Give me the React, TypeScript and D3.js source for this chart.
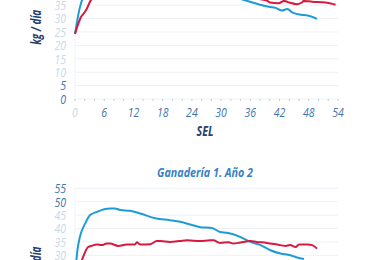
import React from "react";
import * as d3 from "d3";

// Year 1 (top chart, partially visible)
const weeksTopBlue = [0, 0.35, 0.7, 1.4, 2, 3, 4, 6, 8, 10, 14, 18, 22, 26, 30, 33, 35.1, 36.5, 38, 39.8, 41.2, 42.5, 43.6, 44.6, 45.6, 47, 48, 49.7];
const valuesTopBlue = [24.3, 28, 31.7, 36.7, 40, 44, 46.5, 48.5, 48, 47, 45.5, 44, 42.5, 41, 39.5, 38, 36.7, 36, 35.2, 34.4, 34, 33, 33.6, 32.3, 31.7, 31.3, 31.1, 29.9];
const weeksTopRed = [0, 0.7, 1.2, 1.7, 2.4, 3.2, 4, 6, 10, 14, 18, 22, 26, 30, 34, 37, 39.4, 40, 41.8, 42.9, 44, 45.6, 46.6, 46.9, 48.7, 51.4, 53.5];
const valuesTopRed = [24.3, 28.2, 30.5, 31.7, 33.6, 36.7, 38, 38.5, 38.5, 38.8, 39, 39, 38.7, 38.4, 38, 37.5, 36.7, 36, 35.7, 36.6, 36, 35.4, 36, 36.6, 36.3, 36, 35.2];

// Year 2 (bottom chart)
const weeksBotBlue = [0, 0.5, 1, 2.1, 3.1, 4.5, 6, 7.2, 8.2, 9.3, 11.3, 13.4, 16.5, 19.5, 21.6, 23.7, 25.7, 28.1, 29.8, 31.2, 33.9, 36, 38.1, 40.1, 42.2, 44.2, 45.6, 47];
const valuesBotBlue = [22, 31.9, 36.8, 41.9, 45, 46.2, 47.2, 47.5, 47.5, 46.9, 46.6, 45.6, 43.8, 43.1, 42.5, 41.5, 40.5, 40.2, 38.7, 38.4, 36.9, 35, 33.8, 31.9, 30.7, 30, 29.2, 28.6];
const weeksBotRed = [0, 1.4, 2.7, 3.5, 4.5, 5.5, 6.5, 7.2, 8.9, 10.6, 12.3, 12.7, 13.2, 13.7, 15.4, 16.8, 17.5, 19.5, 21.5, 23, 25.7, 27.8, 28.4, 29.8, 31.5, 32.5, 34, 36, 37.3, 39.4, 41.5, 43.2, 44.2, 45.3, 46, 47.7, 48.7, 49.7];
const valuesBotRed = [20, 28.1, 33.1, 33.6, 34, 33.8, 34.4, 34.4, 33.5, 34, 34, 34.9, 34.2, 34, 34.1, 35.3, 35.3, 35, 35.3, 35.6, 35.3, 35.6, 35.6, 34.6, 34.9, 34.4, 34.8, 35.3, 35, 34.6, 34, 33.5, 33.8, 33.1, 34, 34, 33.8, 32.5];

const xTicks = [0, 6, 12, 18, 24, 30, 36, 42, 48, 54];
const yTicks = [0, 5, 10, 15, 20, 25, 30, 35, 40, 45, 50, 55];
const minorTicks = d3.range(0, 55, 2);
const bottomTitle = "Ganadería 1. Año 2";
const yLabel = "kg / día";
const xLabel = "SEL";

const BLUE = "#1e9bd7";
const RED = "#d7193f";
const DARK_TICK = "#4474aa";
const LIGHT_TICK = "#c9d7e6";
const NAVY = "#27406d";
const FONT = "'Open Sans', 'Noto Sans', 'Liberation Sans', sans-serif";
const H = 260;

const x = d3.scaleLinear().domain([0, 54]).range([75, 338]);

function Panel({ y0, wb, vb, wr, vr, title }: any) {
  const y = d3.scaleLinear().domain([0, 55]).range([y0, y0 - 147.4]);
  const mk = (ws: number[], vs: number[]) =>
    d3
      .line<[number, number]>()
      .x((d) => x(d[0]))
      .y((d) => y(d[1]))
      .curve(d3.curveMonotoneX)(ws.map((w, i) => [w, vs[i]] as [number, number])) || "";
  const isDarkY = (t: number) => t <= 5 || t >= 50;
  const inView = (py: number) => py > -6 && py < H + 8;
  const cy = (y(0) + y(55)) / 2 + 2;
  return (
    <g>
      {title && (
        <text x={205} y={y(55) - 11.5} textAnchor="middle" fontFamily={FONT} fontWeight="bold" fontStyle="italic" fontSize={13} fill="#3a7fc2" textLength={96} lengthAdjust="spacingAndGlyphs">
          {title}
        </text>
      )}
      {yTicks.map((t) => (
        <line key={"g" + t} x1={x(0)} x2={x(54)} y1={y(t)} y2={y(t)} stroke="#edf1f5" strokeWidth={1} />
      ))}
      <line x1={x(0)} x2={x(0)} y1={y(0)} y2={y(55)} stroke="#f1f4f7" strokeWidth={1} />
      {minorTicks.map((t) => (
        <line key={"m" + t} x1={x(t)} x2={x(t)} y1={y(0)} y2={y(0) + 2} stroke="#c6ccd3" strokeWidth={1} />
      ))}
      {yTicks
        .filter((t) => inView(y(t)))
        .map((t) => (
          <text
            key={"yl" + t}
            transform={`translate(66, ${y(t) + 4.8}) scale(0.78, 1)`}
            textAnchor="end"
            fontFamily={FONT}
            fontStyle="italic"
            fontSize={13.5}
            fill={isDarkY(t) ? DARK_TICK : LIGHT_TICK}
          >
            {t}
          </text>
        ))}
      {inView(y(0) + 18) &&
        xTicks.map((t) => (
          <text
            key={"xl" + t}
            transform={`translate(${x(t)}, ${y(0) + 18}) scale(0.78, 1)`}
            textAnchor="middle"
            fontFamily={FONT}
            fontStyle="italic"
            fontSize={13.5}
            fill={t === 0 ? LIGHT_TICK : DARK_TICK}
          >
            {t}
          </text>
        ))}
      {inView(y(0) + 37) && (
        <text x={205} y={y(0) + 37} textAnchor="middle" fontFamily={FONT} fontWeight="bold" fontStyle="italic" fontSize={14} fill={NAVY} textLength={17} lengthAdjust="spacingAndGlyphs">
          {xLabel}
        </text>
      )}
      <text
        transform={`translate(41, ${cy}) rotate(-90)`}
        textAnchor="middle"
        fontFamily={FONT}
        fontWeight="bold"
        fontStyle="italic"
        fontSize={13.5}
        fill={NAVY}
        textLength={35}
        lengthAdjust="spacingAndGlyphs"
      >
        {yLabel}
      </text>
      <path d={mk(wb, vb)} fill="none" stroke={BLUE} strokeWidth={2} strokeLinejoin="round" />
      <path d={mk(wr, vr)} fill="none" stroke={RED} strokeWidth={2} strokeLinejoin="round" />
    </g>
  );
}

export default function App() {
  return (
    <svg width={376} height={H} style={{ position: "absolute", left: 0, top: 0, background: "#fff" }}>
      <rect width={376} height={H} fill="#fff" />
      <Panel y0={99} wb={weeksTopBlue} vb={valuesTopBlue} wr={weeksTopRed} vr={valuesTopRed} />
      <Panel y0={335.7} wb={weeksBotBlue} vb={valuesBotBlue} wr={weeksBotRed} vr={valuesBotRed} title={bottomTitle} />
    </svg>
  );
}
